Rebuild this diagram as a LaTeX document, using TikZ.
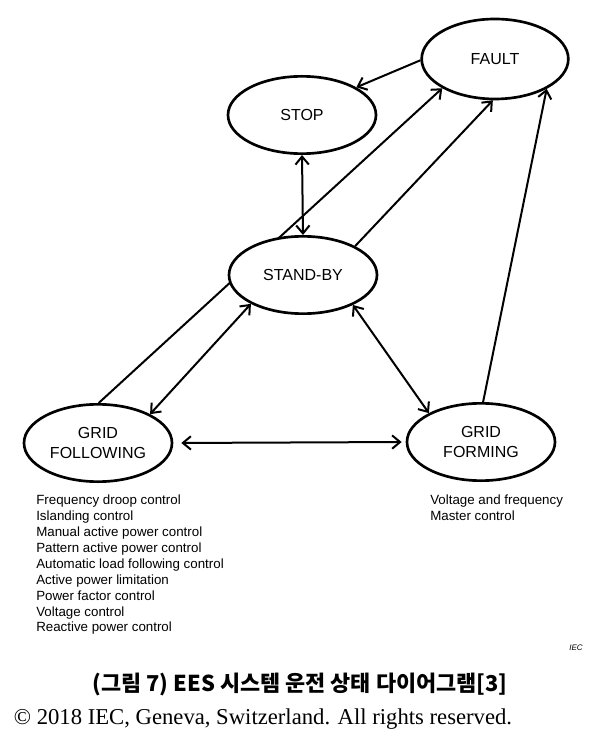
\documentclass[tikz,border=0pt]{standalone}
\usepackage{fontspec}
\setmainfont{Liberation Sans}
\newfontfamily\krfont{Noto Sans CJK KR}
\newfontfamily\serifrm{Liberation Serif}
\usetikzlibrary{positioning,arrows.meta,shapes.geometric,backgrounds}

\begin{document}
\begin{tikzpicture}[
    x=0.75pt, y=-0.75pt,
    >={Straight Barb[length=6pt,width=10pt]},
    every node/.style={align=center},
    opstate/.style={draw, ellipse, line width=2pt, fill=white, inner sep=0pt, minimum width=111pt, minimum height=58pt, font=\fontsize{12}{15}\selectfont},
    conn/.style={line width=1.5pt},
    ctrllist/.style={align=left, inner sep=0pt, font=\fontsize{10}{11.9}\selectfont}
]
\useasboundingbox (0,0) rectangle (613,741);
% states
\node[opstate, minimum width=110pt, minimum height=60pt] (fault) at (495,59) {FAULT};
\node[opstate] (stop) at (302,115) {STOP};
\node[opstate] (standby) at (303,275) {STAND-BY};
\node[opstate] (gfollow) at (98,443) {GRID\\FOLLOWING};
\node[opstate] (gform) at (481,442) {GRID\\FORMING};
% transitions
\draw[conn, ->] (fault.181) -- (stop.27);
\draw[conn, <->] (stop.south) -- (standby.north);
\draw[conn, ->] (standby.29) -- (fault.267);
\draw[conn, ->] (gform.87) -- (fault.330);
\draw[conn, <->] (standby.329) -- (gform.151);
\draw[conn, <->] (gfollow.29) -- (standby.209);
\draw[conn, <->, shorten <=6pt, shorten >=3pt] (gfollow.east) -- (gform.west);
\begin{pgfonlayer}{background}
\draw[conn, ->] (gfollow.89) -- (fault.209);
\end{pgfonlayer}
% control lists
\node[ctrllist, anchor=north west] (followlist) at (36,495) {Frequency droop control\\Islanding control\\Manual active power control\\Pattern active power control\\Automatic load following control\\Active power limitation\\Power factor control\\Voltage control\\Reactive power control};
\node[ctrllist, anchor=north west] (formlist) at (430,495) {Voltage and frequency\\Master control};
\node[font=\fontsize{6}{6}\selectfont\itshape] (ieclabel) at (576,648) {IEC};
% caption
\node[font=\krfont\bfseries\fontsize{16.4}{16.4}\selectfont] (caption) at (300,684) {(그림 7) EES 시스템 운전 상태 다이어그램[3]};
\node[font=\serifrm\fontsize{17}{17}\selectfont] (copyright) at (263,719) {\textcopyright{} 2018 IEC, Geneva, Switzerland. All rights reserved.};
\end{tikzpicture}
\end{document}
